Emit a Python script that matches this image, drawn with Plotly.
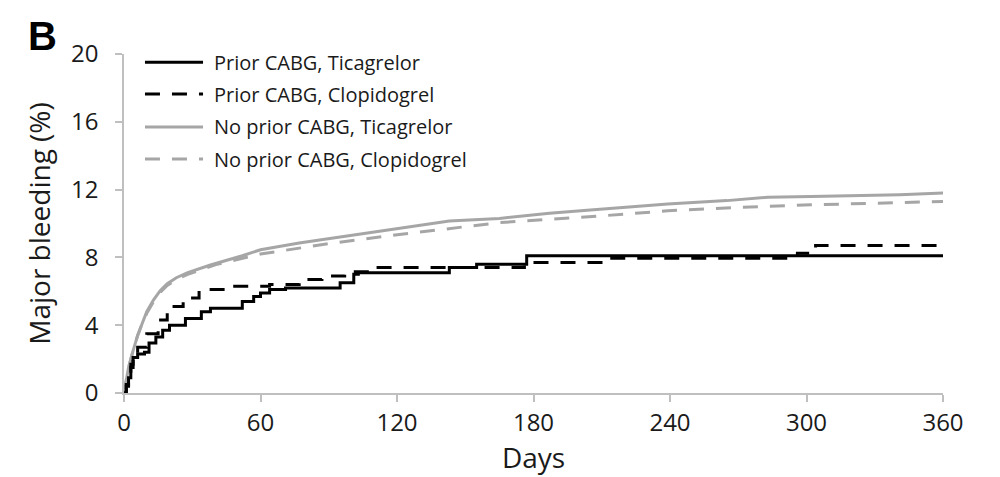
import plotly.graph_objects as go

# Kaplan-Meier style cumulative major bleeding (%) over 360 days
days_ticks = [0, 60, 120, 180, 240, 300, 360]
pct_ticks = [0, 4, 8, 12, 16, 20]

# Prior CABG, Ticagrelor (step curve)
cabg_tica_days = [0, 1, 2, 3, 4, 6, 9, 11, 14, 17, 20, 27, 34, 38, 52, 57, 60, 64, 71,
                  95, 101, 103, 143, 155, 177, 360]
cabg_tica_pct = [0, 0.4, 0.9, 1.5, 2.1, 2.3, 2.4, 2.95, 3.3, 3.7, 4.0, 4.4, 4.8, 5.0, 5.4,
                 5.7, 5.9, 6.1, 6.2, 6.5, 7.0, 7.1, 7.4, 7.6, 8.1, 8.1]

# Prior CABG, Clopidogrel (step curve)
cabg_clop_days = [0, 1, 2, 3, 4, 6, 10, 15, 19, 26, 33, 45, 64, 77, 87, 97, 109, 176, 212,
                  296, 304, 360]
cabg_clop_pct = [0, 0.5, 1.1, 1.7, 2.2, 2.7, 3.5, 4.3, 5.1, 5.6, 6.1, 6.3, 6.4, 6.7, 6.9,
                 7.15, 7.4, 7.7, 7.95, 8.25, 8.7, 8.7]

# No prior CABG, Ticagrelor
nocabg_tica_days = [0, 1, 2, 4, 6, 8, 10, 13, 16, 19, 23, 28, 38, 52, 60, 77, 92, 107, 121,
                    143, 165, 187, 205, 239, 265, 283, 302, 341, 360]
nocabg_tica_pct = [0, 0.8, 1.5, 2.5, 3.4, 4.1, 4.8, 5.5, 6.05, 6.45, 6.8, 7.1, 7.55, 8.1,
                   8.45, 8.85, 9.15, 9.45, 9.75, 10.15, 10.3, 10.6, 10.8, 11.15, 11.35,
                   11.55, 11.6, 11.7, 11.8]

# No prior CABG, Clopidogrel
nocabg_clop_days = [0, 1, 2, 4, 6, 8, 10, 13, 16, 19, 23, 28, 41, 60, 92, 121, 143, 165,
                    187, 210, 239, 270, 302, 330, 360]
nocabg_clop_pct = [0, 0.8, 1.5, 2.5, 3.4, 4.1, 4.7, 5.4, 5.95, 6.35, 6.7, 7.0, 7.6, 8.2,
                   8.85, 9.35, 9.7, 10.05, 10.25, 10.45, 10.75, 10.95, 11.1, 11.2, 11.3]

series_names = [
    "Prior CABG, Ticagrelor",
    "Prior CABG, Clopidogrel",
    "No prior CABG, Ticagrelor",
    "No prior CABG, Clopidogrel",
]

BLACK = "#000000"
GRAY = "#a6a6a6"
DASH = "15px,12px"
AXIS = "#bfbfbf"
FONT = "Open Sans, Liberation Sans, sans-serif"
TEXT = "#1a1a1a"

styles = [
    dict(color=GRAY, dash="solid", shape="linear", width=3),
    dict(color=GRAY, dash=DASH, shape="linear", width=3),
    dict(color=BLACK, dash="solid", shape="hv", width=3),
    dict(color=BLACK, dash=DASH, shape="hv", width=3),
]
data = [
    (nocabg_tica_days, nocabg_tica_pct, series_names[2]),
    (nocabg_clop_days, nocabg_clop_pct, series_names[3]),
    (cabg_tica_days, cabg_tica_pct, series_names[0]),
    (cabg_clop_days, cabg_clop_pct, series_names[1]),
]

fig = go.Figure()
for (x, y, name), st in zip(data, styles):
    fig.add_trace(go.Scatter(
        x=x, y=y, name=name, mode="lines", showlegend=False,
        line=dict(color=st["color"], dash=st["dash"], shape=st["shape"], width=st["width"]),
    ))

# Hand-drawn legend in the upper-left corner of the plot area
legend_styles = [
    dict(color=BLACK, dash="solid"),
    dict(color=BLACK, dash=DASH),
    dict(color=GRAY, dash="solid"),
    dict(color=GRAY, dash=DASH),
]
legend_rows = [0.976, 0.882, 0.785, 0.690]
for name, st, ry in zip(series_names, legend_styles, legend_rows):
    fig.add_shape(type="line", xref="paper", yref="paper",
                  x0=0.0256, x1=0.0965, y0=ry, y1=ry,
                  line=dict(color=st["color"], dash=st["dash"], width=3))
    fig.add_annotation(xref="paper", yref="paper", x=0.1075, y=ry,
                       xanchor="left", yanchor="middle", showarrow=False,
                       text=name, font=dict(family=FONT, size=20, color=TEXT))

# Panel letter
fig.add_annotation(xref="paper", yref="paper", x=-0.100, y=1.052,
                   xanchor="center", yanchor="middle", showarrow=False,
                   text="<b>B</b>",
                   font=dict(family="Liberation Sans, Arial, sans-serif", size=40, color="#000"))

fig.update_layout(
    width=1000, height=477,
    margin=dict(l=124, r=57, t=54, b=84),
    paper_bgcolor="white", plot_bgcolor="white",
    font=dict(family=FONT, color=TEXT),
    xaxis=dict(
        range=[0, 360], tickvals=days_ticks, ticktext=[str(v) for v in days_ticks],
        showgrid=False, zeroline=False, showline=True, linecolor=AXIS, linewidth=1.5,
        ticks="outside", ticklen=7, tickcolor=AXIS, tickwidth=1.5,
        tickfont=dict(family=FONT, size=24, color=TEXT),
        title=dict(text="Days", font=dict(family=FONT, size=28, color=TEXT), standoff=8),
    ),
    yaxis=dict(
        range=[0, 20], tickvals=pct_ticks, ticktext=[str(v) for v in pct_ticks],
        showgrid=False, zeroline=False, showline=True, linecolor=AXIS, linewidth=1.5,
        ticks="outside", ticklen=7, tickcolor=AXIS, tickwidth=1.5,
        ticklabelstandoff=12,
        tickfont=dict(family=FONT, size=24, color=TEXT),
        title=dict(text="Major bleeding (%)", font=dict(family=FONT, size=28, color=TEXT),
                   standoff=12),
    ),
)

fig.write_html("out.html")
